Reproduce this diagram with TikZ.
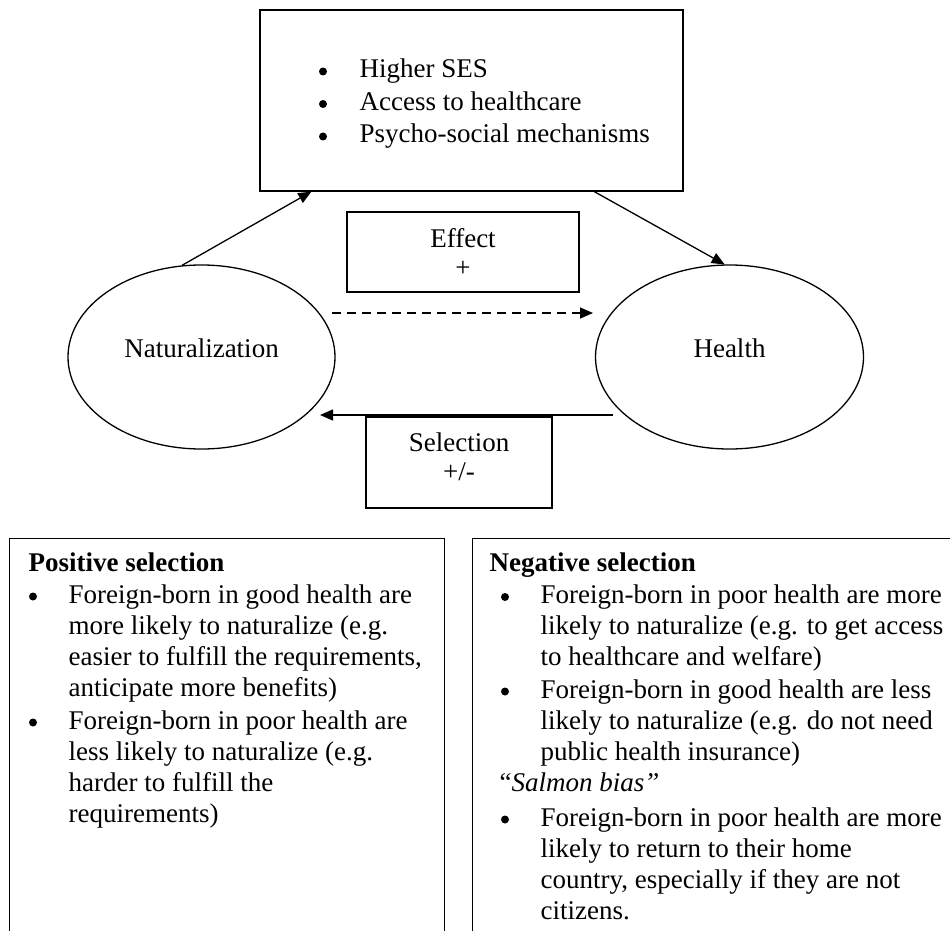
\documentclass[tikz,border=0pt]{standalone}
\usepackage{fontspec}
\setmainfont{Liberation Serif}
\usetikzlibrary{shapes.geometric,arrows.meta}
\newcommand{\mylines}[2][31pt]{\vtop{\baselineskip=#1 #2}}
\begin{document}
\begin{tikzpicture}[x=1pt,y=-1pt,
  line width=1.3pt,
  box/.style={draw,rectangle,inner sep=0pt},
  oval/.style={draw,ellipse,inner sep=0pt,minimum width=267pt,minimum height=184pt},
  txt/.style={inner sep=0pt,font=\fontsize{27}{31}\selectfont},
  dot/.style={circle,fill=black,draw=none,inner sep=0pt,minimum size=8pt},
  arr/.style={-{Triangle[length=13pt,width=11pt]}},
]
\useasboundingbox (0,0) rectangle (950,931);
\clip (0,0) rectangle (950,931);

% top mechanisms box
\node[box,minimum width=423pt,minimum height=181pt] (mech) at (471.5,100.5) {};
\node[dot] (md1) at (323,71.5) {};
\node[dot] (md2) at (323,104) {};
\node[dot] (md3) at (323,136.5) {};
\node[txt,anchor=base west] (mechtxt) at (359,78) {\mylines[32.5pt]{\hbox{Higher SES}\hbox{Access to healthcare}\hbox{Psycho-social mechanisms}}};

% effect box
\node[box,minimum width=232pt,minimum height=80pt] (effect) at (463,252) {};
\node[txt,anchor=base] (efflab) at (463,247) {Effect};
\node[txt,anchor=base] (effsign) at (463,276) {+};

% selection box
\node[box,minimum width=186pt,minimum height=91pt] (sel) at (459,462.5) {};
\node[txt,anchor=base] (sellab) at (459,451) {Selection};
\node[txt,anchor=base] (selsign) at (459,480) {+/-};

% ellipses
\node[oval] (nat) at (201.5,357) {};
\node[txt,anchor=base] (natlab) at (201.5,357) {Naturalization};
\node[oval,minimum width=268pt] (hea) at (729.5,357) {};
\node[txt,anchor=base] (healab) at (729.5,357) {Health};

% connectors
\draw[arr] (nat.102) -- ([xshift=52pt]mech.south west);
\draw[arr] ([xshift=335pt]mech.south west) -- (hea.93);
\path (nat.center) ++(130.5,-44) coordinate (dA);
\path (hea.center) ++(-136.5,-44) coordinate (dB);
\draw[arr,dash pattern=on 9pt off 6pt] (dA) -- (dB);
\path (hea.center) ++(-116.5,58) coordinate (sA);
\path (nat.center) ++(118.5,58) coordinate (sB);
\draw[arr] (sA) -- (sB);

% bottom boxes
\node[box,anchor=north west,minimum width=435pt,minimum height=450pt] (pos) at (9,538) {};
\node[box,anchor=north west,minimum width=520pt,minimum height=450pt] (neg) at (471.5,538) {};

% positive selection text
\node[txt,anchor=base west] (posh) at (28,571) {\bfseries Positive selection};
\node[dot] (pb1) at (33,596.5) {};
\node[txt,anchor=base west] (pi1) at (68,603) {\mylines{\hbox{Foreign-born in good health are}\hbox{more likely to naturalize (e.g.}\hbox{easier to fulfill the requirements,}\hbox{anticipate more benefits)}}};
\node[dot] (pb2) at (33,722.5) {};
\node[txt,anchor=base west] (pi2) at (68,729) {\mylines{\hbox{Foreign-born in poor health are}\hbox{less likely to naturalize (e.g.}\hbox{harder to fulfill the}\hbox{requirements)}}};

% negative selection text
\node[txt,anchor=base west] (negh) at (489,571) {\bfseries Negative selection};
\node[dot] (nb1) at (505,597) {};
\node[txt,anchor=base west] (ni1) at (540,603) {\mylines{\hbox{Foreign-born in poor health are more}\hbox{likely to naturalize (e.g. to get access}\hbox{to healthcare and welfare)}}};
\node[dot] (nb2) at (505,691.5) {};
\node[txt,anchor=base west] (ni2) at (540,698) {\mylines{\hbox{Foreign-born in good health are less}\hbox{likely to naturalize (e.g. do not need}\hbox{public health insurance)}}};
\node[txt,anchor=base west] (salmon) at (499,791) {“\textit{Salmon bias”}};
\node[dot] (nb3) at (505,819.5) {};
\node[txt,anchor=base west] (ni3) at (540,826) {\mylines{\hbox{Foreign-born in poor health are more}\hbox{likely to return to their home}\hbox{country, especially if they are not}\hbox{citizens.}}};
\end{tikzpicture}
\end{document}
